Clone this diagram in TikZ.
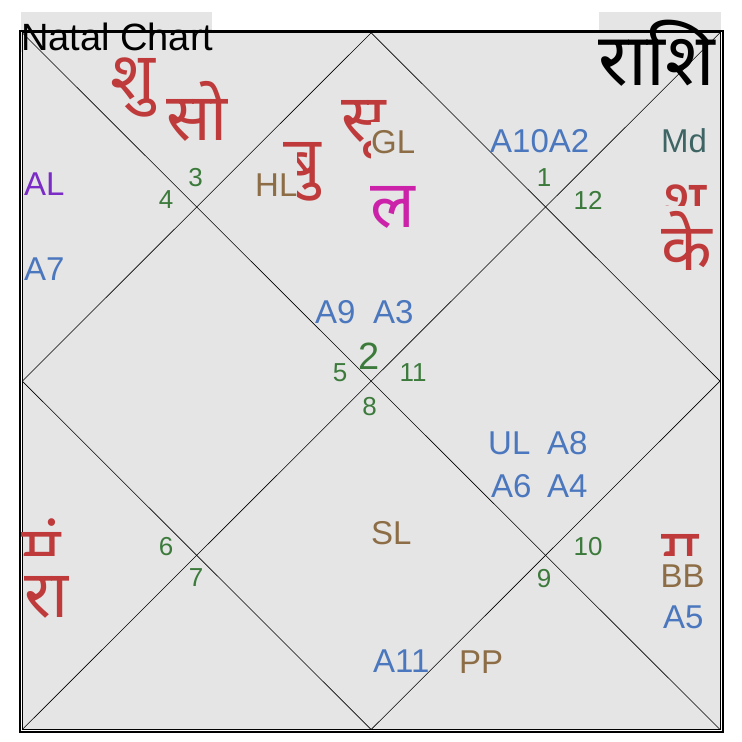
\documentclass[tikz,border=0pt]{standalone}
\usepackage{fontspec}
\setmainfont{Liberation Sans}
\newfontfamily\devfont[Script=Devanagari]{Noto Sans}
\definecolor{chartbg}{HTML}{E5E5E5}
\definecolor{plred}{HTML}{BF3B3B}
\definecolor{lblblue}{HTML}{4B77BE}
\definecolor{lblbrown}{HTML}{8C6D46}
\definecolor{numgreen}{HTML}{3B7A3B}
\definecolor{lagmag}{HTML}{CC22AA}
\definecolor{alpurple}{HTML}{7B2CC6}
\definecolor{mdslate}{HTML}{3E6464}
\begin{document}
\begin{tikzpicture}[x=1pt,y=-1pt,
  lbl/.style={anchor=base west, inner sep=0pt, font=\fontsize{33}{33}\selectfont},
  blue/.style={lbl, text=lblblue},
  brown/.style={lbl, text=lblbrown},
  num/.style={anchor=center, inner sep=0pt, text=numgreen, font=\fontsize{26}{26}\selectfont},
  pl/.style={anchor=base west, inner sep=0pt, text=plred, font=\devfont\fontsize{66}{66}\selectfont},
  cover/.style={fill=chartbg},
  thinline/.style={draw=black, line width=0.6pt}
]
\useasboundingbox (0,0) rectangle (742,742);
\fill[white] (0,0) rectangle (742,742);
\fill[chartbg] (22,33) rectangle (720,730);
% title boxes
\fill[chartbg] (21,12) rectangle (212,52);
\fill[chartbg] (599,12) rectangle (721,60);
% frame
\draw[line width=2pt] (20,31) rectangle (722.5,732);
\coordinate (TL) at (22.3,32.8);
\coordinate (TR) at (720,32.8);
\coordinate (BL) at (22.3,729.5);
\coordinate (BR) at (720,729.5);
\coordinate (T) at (371.15,32.8);
\coordinate (B) at (371.15,729.5);
\coordinate (L) at (22.3,381.15);
\coordinate (R) at (720,381.15);
\draw[line width=0.8pt] (TL) rectangle (BR);
\draw[thinline] (TL) -- (BR);
\draw[thinline] (TR) -- (BL);
\draw[thinline] (T) -- (R) -- (B) -- (L) -- cycle;
% titles
\node[anchor=base west, inner sep=0pt, font=\fontsize{38}{38}\selectfont] (title) at (21,50) {Natal Chart};
\node[anchor=base west, inner sep=0pt, font=\devfont\fontsize{73}{73}\selectfont] (rashi) at (598,85) {राशि};
% house numbers
\node[num] (n3) at (195.5,177.5) {3};
\node[num] (n4) at (166,200) {4};
\node[num] (n1) at (544,178) {1};
\node[num] (n12) at (588,200) {12};
\node[num] (n6) at (166,547) {6};
\node[num] (n7) at (196,578) {7};
\node[num] (n10) at (588,547) {10};
\node[num] (n9) at (544,579) {9};
\node[num, font=\fontsize{38}{38}\selectfont] (n2) at (369,356) {2};
\node[num] (n5) at (340,372.5) {5};
\node[num] (n11) at (413,372.5) {11};
\node[num] (n8) at (369.5,407) {8};
% planets
\node[pl] (shu) at (110,99) {शु};
\node[pl] (so) at (166,140) {सो};
\node[pl] (su) at (341,141) {सू};
\node[pl] (bu) at (283,183) {बु};
\node[pl, text=lagmag] (la) at (370,227) {ल};
\node[pl] (sha) at (661,226) {श};
\node[pl, cover, text height=64pt, text depth=4pt] (ke) at (661,270) {के};
\node[pl] (ma) at (21,573) {मं};
\node[pl, cover, text height=61pt, text depth=4pt] (ra) at (24,617) {रा};
\node[pl] (gu) at (661,575) {गु};
% labels
\node[lbl, text=alpurple] (al) at (24,195) {AL};
\node[blue] (a7) at (24,280) {A7};
\node[brown, cover, text height=44pt, text depth=6pt] (hl) at (255,196) {HL};
\node[brown, cover, text height=31pt, text depth=14pt] (gl) at (371,153) {GL};
\node[blue] (a10a2) at (490,152) {A10A2};
\node[lbl, text=mdslate] (md) at (661,152) {Md};
\node[blue] (a9) at (315,323) {A9};
\node[blue] (a3) at (373,323) {A3};
\node[blue] (ul) at (488,454) {UL};
\node[blue] (a8) at (547,454) {A8};
\node[blue] (a6) at (491,497) {A6};
\node[blue] (a4) at (547,497) {A4};
\node[brown] (sl) at (371,544) {SL};
\node[blue] (a11) at (373,672) {A11};
\node[brown] (pp) at (459,673) {PP};
\node[brown, cover, text height=31pt, text depth=9pt] (bb) at (660.5,587) {BB};
\node[blue] (a5) at (663,628) {A5};
\end{tikzpicture}
\end{document}
